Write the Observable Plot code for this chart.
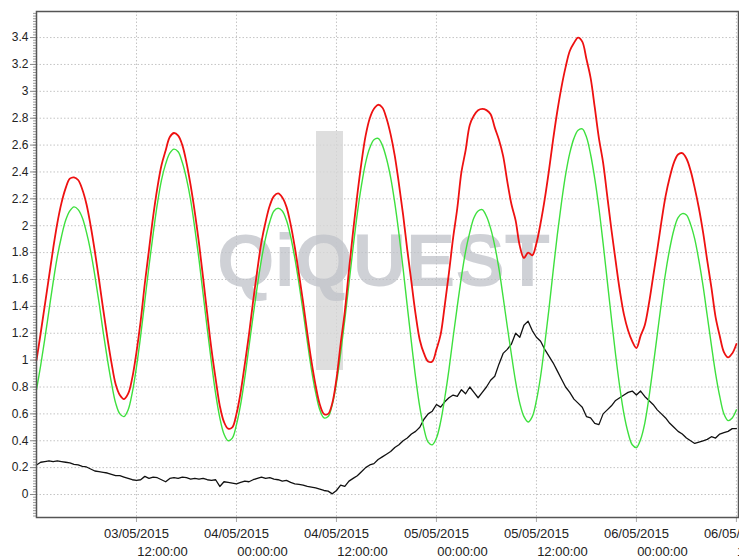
<!DOCTYPE html>
<html>
<head>
<meta charset="utf-8">
<script src="https://cdn.jsdelivr.net/npm/d3@7"></script>
<script src="https://cdn.jsdelivr.net/npm/@observablehq/plot@0.6"></script>
<style>
  html, body { margin: 0; padding: 0; background: #fff; overflow: hidden; }
  #chart svg { display: block; }
</style>
</head>
<body>
<div id="chart"></div>
<script>
// ---- data (half-hourly samples from 03/05/2015 00:00) ----
const startTime = "2015-05-03T00:00:00Z";
const endTime = "2015-05-06T12:15:00Z";
const stepMinutes = 30;

// predicted tide (green)
const predicted = [
  0.78, 0.96, 1.16, 1.37, 1.58, 1.77, 1.92, 2.04, 2.11, 2.14, 2.12, 2.06,
  1.95, 1.81, 1.63, 1.43, 1.21, 1.01, 0.83, 0.68, 0.60, 0.58, 0.63, 0.76,
  0.95, 1.18, 1.44, 1.70, 1.94, 2.16, 2.34, 2.46, 2.54, 2.57, 2.55, 2.47,
  2.35, 2.19, 1.98, 1.75, 1.49, 1.23, 0.98, 0.75, 0.57, 0.45, 0.40, 0.42,
  0.52, 0.67, 0.87, 1.10, 1.33, 1.55, 1.75, 1.91, 2.03, 2.11, 2.13, 2.11,
  2.04, 1.92, 1.76, 1.57, 1.36, 1.14, 0.93, 0.76, 0.63, 0.57, 0.58, 0.67,
  0.83, 1.05, 1.30, 1.57, 1.84, 2.09, 2.30, 2.47, 2.58, 2.64, 2.65, 2.60,
  2.50, 2.36, 2.17, 1.94, 1.68, 1.40, 1.13, 0.87, 0.65, 0.49, 0.39, 0.37,
  0.42, 0.54, 0.72, 0.93, 1.17, 1.40, 1.62, 1.81, 1.95, 2.06, 2.11, 2.12,
  2.07, 1.98, 1.85, 1.68, 1.47, 1.25, 1.04, 0.84, 0.68, 0.58, 0.54, 0.58,
  0.70, 0.88, 1.12, 1.38, 1.66, 1.93, 2.17, 2.38, 2.54, 2.65, 2.71, 2.72,
  2.66, 2.53, 2.35, 2.13, 1.87, 1.59, 1.31, 1.04, 0.80, 0.60, 0.46, 0.37,
  0.35, 0.41, 0.53, 0.72, 0.95, 1.19, 1.43, 1.65, 1.83, 1.97, 2.06, 2.09,
  2.08, 2.01, 1.90, 1.74, 1.55, 1.33, 1.11, 0.90, 0.73, 0.60, 0.55, 0.57,
  0.63
];

// observed level (red)
const observed = [
  1.00, 1.20, 1.41, 1.62, 1.83, 2.02, 2.17, 2.28, 2.35, 2.36, 2.34, 2.27,
  2.16, 2.00, 1.81, 1.60, 1.38, 1.17, 0.98, 0.82, 0.74, 0.71, 0.75, 0.87,
  1.06, 1.29, 1.57, 1.82, 2.07, 2.28, 2.45, 2.56, 2.66, 2.69, 2.67, 2.60,
  2.47, 2.30, 2.10, 1.87, 1.61, 1.34, 1.08, 0.86, 0.66, 0.54, 0.49, 0.50,
  0.60, 0.76, 0.97, 1.19, 1.44, 1.67, 1.88, 2.03, 2.15, 2.22, 2.24, 2.21,
  2.14, 2.01, 1.84, 1.64, 1.43, 1.20, 0.99, 0.81, 0.67, 0.60, 0.60, 0.68,
  0.86, 1.12, 1.36, 1.67, 1.96, 2.23, 2.47, 2.67, 2.80, 2.87, 2.90, 2.88,
  2.80, 2.68, 2.52, 2.31, 2.08, 1.82, 1.58, 1.34, 1.15, 1.05, 0.99, 0.99,
  1.08, 1.19, 1.41, 1.65, 1.91, 2.13, 2.40, 2.56, 2.75, 2.82, 2.86, 2.87,
  2.86, 2.83, 2.73, 2.64, 2.52, 2.33, 2.16, 2.04, 1.85, 1.76, 1.80, 1.78,
  1.87, 2.02, 2.20, 2.41, 2.64, 2.85, 3.03, 3.18, 3.30, 3.36, 3.40, 3.37,
  3.24, 3.10, 2.88, 2.65, 2.47, 2.22, 1.97, 1.74, 1.52, 1.34, 1.22, 1.14,
  1.09, 1.18, 1.26, 1.42, 1.62, 1.82, 2.03, 2.22, 2.36, 2.47, 2.53, 2.54,
  2.50, 2.41, 2.28, 2.13, 1.95, 1.74, 1.54, 1.32, 1.18, 1.06, 1.02, 1.05,
  1.12
];

// residual / surge (black)
const residual = [
  0.22, 0.24, 0.245, 0.25, 0.245, 0.25, 0.245, 0.24, 0.235, 0.225, 0.22, 0.21,
  0.205, 0.19, 0.175, 0.17, 0.165, 0.16, 0.15, 0.14, 0.14, 0.13, 0.12, 0.11,
  0.105, 0.11, 0.135, 0.12, 0.13, 0.125, 0.11, 0.095, 0.12, 0.125, 0.12, 0.13,
  0.125, 0.115, 0.12, 0.115, 0.12, 0.11, 0.105, 0.11, 0.06, 0.095, 0.09, 0.085,
  0.08, 0.09, 0.10, 0.095, 0.11, 0.12, 0.13, 0.12, 0.125, 0.115, 0.11, 0.10,
  0.105, 0.09, 0.08, 0.075, 0.07, 0.06, 0.055, 0.05, 0.04, 0.03, 0.025, 0.005,
  0.03, 0.07, 0.06, 0.10, 0.12, 0.14, 0.17, 0.20, 0.22, 0.23, 0.26, 0.28,
  0.30, 0.32, 0.35, 0.37, 0.40, 0.42, 0.45, 0.47, 0.50, 0.56, 0.60, 0.62,
  0.67, 0.65, 0.69, 0.72, 0.74, 0.73, 0.78, 0.75, 0.80, 0.76, 0.72, 0.76,
  0.80, 0.85, 0.88, 0.97, 1.05, 1.08, 1.12, 1.20, 1.17, 1.26, 1.29, 1.22,
  1.17, 1.14, 1.08, 1.03, 0.98, 0.92, 0.86, 0.80, 0.76, 0.71, 0.68, 0.65,
  0.58, 0.57, 0.53, 0.52, 0.60, 0.63, 0.66, 0.70, 0.72, 0.74, 0.76, 0.77,
  0.74, 0.77, 0.73, 0.70, 0.67, 0.63, 0.60, 0.57, 0.53, 0.50, 0.47, 0.45,
  0.42, 0.40, 0.38, 0.39, 0.40, 0.41, 0.43, 0.42, 0.45, 0.46, 0.47, 0.49,
  0.49
];

const yTicks = [0, 0.2, 0.4, 0.6, 0.8, 1, 1.2, 1.4, 1.6, 1.8, 2, 2.2, 2.4, 2.6, 2.8, 3, 3.2, 3.4];
const xTicks = [
  "2015-05-03T12:00:00Z", "2015-05-04T00:00:00Z", "2015-05-04T12:00:00Z",
  "2015-05-05T00:00:00Z", "2015-05-05T12:00:00Z", "2015-05-06T00:00:00Z",
  "2015-05-06T12:00:00Z"
];
const watermark = ["QiQUEST"];

// ---- build ----
const t0 = new Date(startTime).getTime();
const times = predicted.map((_, i) => new Date(t0 + i * stepMinutes * 60000));
const toRows = vals => vals.map((v, i) => ({t: times[i], v}));
const xDates = xTicks.map(s => new Date(s));
const yMinor = d3.range(-8, 180).map(i => Math.round(i * 2) / 100);

function logoBar(index, scales, values, dims) {
  const cx = dims.marginLeft + (dims.width - dims.marginLeft - dims.marginRight) / 2;
  const cy = dims.marginTop + (dims.height - dims.marginTop - dims.marginBottom) / 2;
  return d3.create("svg:rect")
    .attr("x", cx - 71).attr("y", cy - 133)
    .attr("width", 27).attr("height", 239)
    .attr("fill", "#d6d6d6").attr("fill-opacity", 0.8)
    .node();
}

const chart = Plot.plot({
  width: 739,
  height: 558,
  marginLeft: 36,
  marginRight: 1,
  marginTop: 11,
  marginBottom: 41,
  style: {fontFamily: "'Liberation Sans', Arial, sans-serif", fontSize: "12px", color: "#222", background: "#fff"},
  x: {type: "utc", domain: [new Date(startTime), new Date(endTime)], label: null},
  y: {domain: [-0.171, 3.594], label: null},
  marks: [
    Plot.gridY(yTicks, {stroke: "#c4c4c4", strokeOpacity: 1, strokeDasharray: "1.5,2"}),
    Plot.gridX(xDates, {stroke: "#c4c4c4", strokeOpacity: 1, strokeDasharray: "1.5,2"}),
    logoBar,
    Plot.text(watermark, {frameAnchor: "middle", dx: -4, dy: -2, fontSize: 74, fontWeight: "bold",
      fill: "#bfc2c8", fillOpacity: 0.75, fontFamily: "'Liberation Sans', Arial, sans-serif"}),
    Plot.axisY(yMinor, {anchor: "left", tickSize: 3, tickFormat: () => "", stroke: "#9a9a9a", label: null}),
    Plot.axisY(yTicks, {anchor: "left", tickSize: 6, tickPadding: 2, stroke: "#8a8a8a", fill: "#222",
      fontSize: 12, tickFormat: d => String(+d.toFixed(1)), label: null}),
    Plot.axisX(xDates, {anchor: "bottom", tickSize: 5, tickPadding: 6, stroke: "#aaa", fill: "#222",
      fontSize: 13, tickFormat: d3.utcFormat("%d/%m/%Y"), label: null}),
    Plot.axisX(xDates, {anchor: "bottom", tickSize: 0, tickPadding: 29, dx: 26, fill: "#222",
      fontSize: 13, tickFormat: d3.utcFormat("%H:%M:%S"), label: null}),
    Plot.line(toRows(residual), {x: "t", y: "v", stroke: "#111", strokeWidth: 1.3}),
    Plot.line(toRows(predicted), {x: "t", y: "v", stroke: "#3ee03e", strokeWidth: 1.4, curve: "catmull-rom"}),
    Plot.line(toRows(observed), {x: "t", y: "v", stroke: "#ee1111", strokeWidth: 1.8, curve: "catmull-rom"}),
    Plot.frame({stroke: "#555", strokeWidth: 1.5})
  ]
});
document.getElementById("chart").appendChild(chart);
</script>
</body>
</html>
